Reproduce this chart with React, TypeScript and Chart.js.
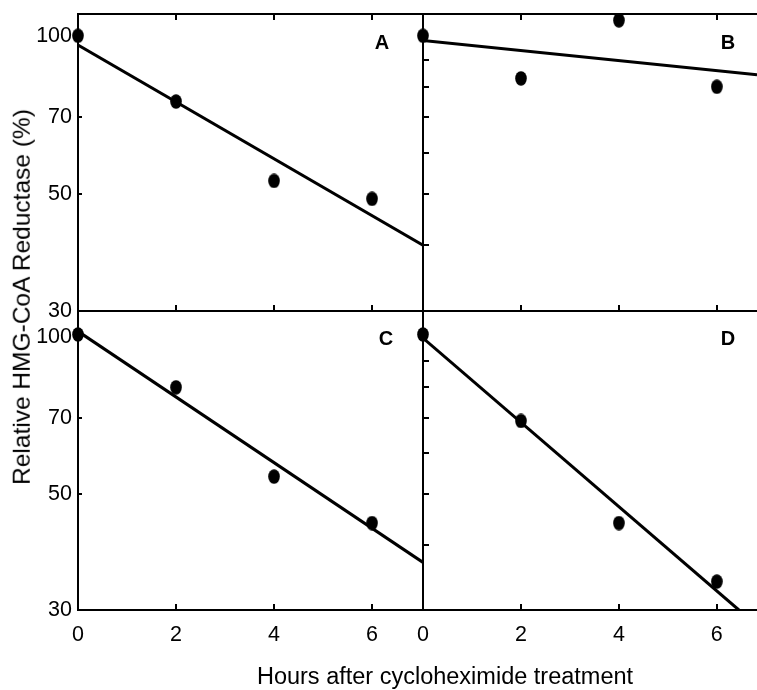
import React, { useEffect, useRef } from "react";
import { Chart, registerables } from "chart.js";

Chart.register(...registerables);

// ---------- data ----------
const HOURS = [0, 2, 4, 6];
const X_TICKS = [0, 2, 4, 6];
const Y_TICKS = [30, 50, 70, 100];
const MINOR_Y_TICKS = [40, 50, 60, 70, 80, 90];

const A_VALUES = [100, 75, 53, 49];
const B_VALUES = [100, 83, 107, 80];
const C_VALUES = [101, 80, 54, 44];
const D_VALUES = [101, 69, 44, 34];

const A_FIT_X = [0, 7.04];
const A_FIT_Y = [96, 40];
const B_FIT_X = [0, 6.82];
const B_FIT_Y = [98, 84.3];
const C_FIT_X = [0, 7.04];
const C_FIT_Y = [102.4, 37];
const D_FIT_X = [0, 6.45];
const D_FIT_Y = [99.4, 30];

const PANEL_LETTERS = ["A", "B", "C", "D"];
const X_TITLE = "Hours after cycloheximide treatment";
const Y_TITLE = "Relative HMG-CoA Reductase (%)";

// ---------- layout / style ----------
const W = 757;
const H = 690;
const FONT = '"Liberation Sans", Arial, Helvetica, sans-serif';

const PANELS = [
  { letter: PANEL_LETTERS[0], values: A_VALUES, fitX: A_FIT_X, fitY: A_FIT_Y,
    area: { left: 78, top: 14, right: 423, bottom: 311 }, xMax: 7.04, yMax: 110,
    yLabels: true, xLabels: false, topTicks: true, minorLeft: false, rightEdge: true, ldx: 41, ldy: 29 },
  { letter: PANEL_LETTERS[1], values: B_VALUES, fitX: B_FIT_X, fitY: B_FIT_Y,
    area: { left: 423, top: 14, right: 757, bottom: 311 }, xMax: 6.82, yMax: 110,
    yLabels: false, xLabels: false, topTicks: true, minorLeft: true, rightEdge: false, ldx: 29, ldy: 29 },
  { letter: PANEL_LETTERS[2], values: C_VALUES, fitX: C_FIT_X, fitY: C_FIT_Y,
    area: { left: 78, top: 311, right: 423, bottom: 610 }, xMax: 7.04, yMax: 112,
    yLabels: true, xLabels: true, topTicks: false, minorLeft: false, rightEdge: true, ldx: 37, ldy: 28 },
  { letter: PANEL_LETTERS[3], values: D_VALUES, fitX: D_FIT_X, fitY: D_FIT_Y,
    area: { left: 423, top: 311, right: 757, bottom: 610 }, xMax: 6.82, yMax: 112,
    yLabels: false, xLabels: true, topTicks: false, minorLeft: true, rightEdge: false, ldx: 29, ldy: 28 },
];

let dotCache: HTMLCanvasElement | null = null;
function getDot(): HTMLCanvasElement {
  if (dotCache) return dotCache;
  const c = document.createElement("canvas");
  c.width = 12;
  c.height = 15;
  const g = c.getContext("2d")!;
  g.fillStyle = "#000";
  g.beginPath();
  g.ellipse(6, 7.5, 5.8, 7.3, 0, 0, Math.PI * 2);
  g.fill();
  dotCache = c;
  return c;
}

function makeFramePlugin(p: any) {
  return {
    id: "panelFrame" + p.letter,
    afterDraw(chart: any) {
      const { ctx, chartArea } = chart;
      const { left, top, right, bottom } = chartArea;
      const xs = chart.scales.x;
      const ys = chart.scales.y;
      ctx.save();
      ctx.strokeStyle = "#000";
      ctx.lineWidth = 2;
      ctx.beginPath();
      ctx.moveTo(right + 1, top);
      ctx.lineTo(left, top);
      ctx.lineTo(left, bottom);
      ctx.lineTo(right + 1, bottom);
      if (p.rightEdge) {
        ctx.moveTo(right, top);
        ctx.lineTo(right, bottom);
      }
      ctx.stroke();
      ctx.beginPath();
      X_TICKS.filter((v) => v > 0).forEach((v) => {
        const px = Math.round(xs.getPixelForValue(v));
        ctx.moveTo(px, bottom);
        ctx.lineTo(px, bottom - 6);
        if (p.topTicks) {
          ctx.moveTo(px, top);
          ctx.lineTo(px, top + 6);
        }
      });
      if (p.minorLeft) {
        MINOR_Y_TICKS.forEach((v) => {
          const py = Math.round(ys.getPixelForValue(v));
          ctx.moveTo(left, py);
          ctx.lineTo(left + 6, py);
        });
      } else {
        Y_TICKS.forEach((v) => {
          const py = Math.round(ys.getPixelForValue(v));
          ctx.moveTo(left, py);
          ctx.lineTo(left + 4, py);
        });
      }
      ctx.stroke();
      ctx.fillStyle = "#000";
      ctx.font = "bold 20px " + FONT;
      ctx.textAlign = "center";
      ctx.textBaseline = "middle";
      ctx.fillText(p.letter, right - p.ldx, top + p.ldy);
      ctx.restore();
    },
  };
}

function Panel({ p }: { p: any }) {
  const ref = useRef<HTMLCanvasElement | null>(null);
  useEffect(() => {
    if (!ref.current) return;
    const a = p.area;
    const padding = {
      left: p.yLabels ? 0 : a.left,
      right: W - a.right,
      top: a.top,
      bottom: p.xLabels ? 0 : H - a.bottom,
    };
    const points = HOURS.map((h, i) => ({ x: h, y: p.values[i] }));
    const fit = p.fitX.map((x: number, i: number) => ({ x, y: p.fitY[i] }));
    const chart = new Chart(ref.current, {
      type: "scatter",
      data: {
        datasets: [
          {
            data: points,
            pointStyle: getDot() as any,
            pointRadius: 7,
            backgroundColor: "#000",
            borderColor: "#000",
            clip: false as any,
          },
          {
            data: fit,
            showLine: true,
            pointRadius: 0,
            borderColor: "#000",
            borderWidth: 3,
            backgroundColor: "#000",
          },
        ],
      },
      options: {
        responsive: false,
        animation: false,
        events: [],
        layout: { padding, autoPadding: false },
        plugins: { legend: { display: false }, tooltip: { enabled: false }, title: { display: false } },
        scales: {
          x: {
            type: "linear",
            min: 0,
            max: p.xMax,
            display: p.xLabels,
            afterBuildTicks: (s: any) => {
              s.ticks = X_TICKS.map((v) => ({ value: v }));
            },
            afterFit: (s: any) => {
              if (p.xLabels) s.height = H - a.bottom;
              s.paddingLeft = 0;
              s.paddingRight = 0;
            },
            grid: { display: false, drawTicks: false },
            border: { display: false },
            ticks: {
              color: "#000",
              padding: 12,
              maxRotation: 0,
              font: { family: FONT, size: 21.5 },
              callback: (v: any) => String(v),
            },
          },
          y: {
            type: "logarithmic",
            min: 30,
            max: p.yMax,
            display: p.yLabels,
            afterBuildTicks: (s: any) => {
              s.ticks = Y_TICKS.map((v) => ({ value: v }));
            },
            afterFit: (s: any) => {
              if (p.yLabels) s.width = a.left;
              s.paddingTop = 0;
              s.paddingBottom = 0;
            },
            grid: { display: false, drawTicks: false },
            border: { display: false },
            ticks: {
              color: "#000",
              padding: 6,
              font: { family: FONT, size: 21.5 },
              callback: (v: any) => String(v),
            },
          },
        },
      } as any,
      plugins: [makeFramePlugin(p)],
    });
    return () => chart.destroy();
  }, [p]);
  return (
    <canvas
      ref={ref}
      width={W}
      height={H}
      style={{ position: "absolute", left: 0, top: 0, width: W, height: H }}
    />
  );
}

export default function App() {
  return (
    <div
      style={{
        position: "absolute",
        left: 0,
        top: 0,
        width: W,
        height: H,
        background: "#fff",
        overflow: "hidden",
        fontFamily: FONT,
        color: "#000",
      }}
    >
      {PANELS.map((p) => (
        <Panel key={p.letter} p={p} />
      ))}
      <div
        style={{
          position: "absolute",
          left: 445,
          top: 677,
          transform: "translate(-50%, -50%)",
          whiteSpace: "nowrap",
          fontSize: 23.5,
          lineHeight: 1,
        }}
      >
        {X_TITLE}
      </div>
      <div
        style={{
          position: "absolute",
          left: 22,
          top: 297,
          transform: "translate(-50%, -50%) rotate(-90deg)",
          whiteSpace: "nowrap",
          fontSize: 24.5,
          lineHeight: 1,
        }}
      >
        {Y_TITLE}
      </div>
    </div>
  );
}
